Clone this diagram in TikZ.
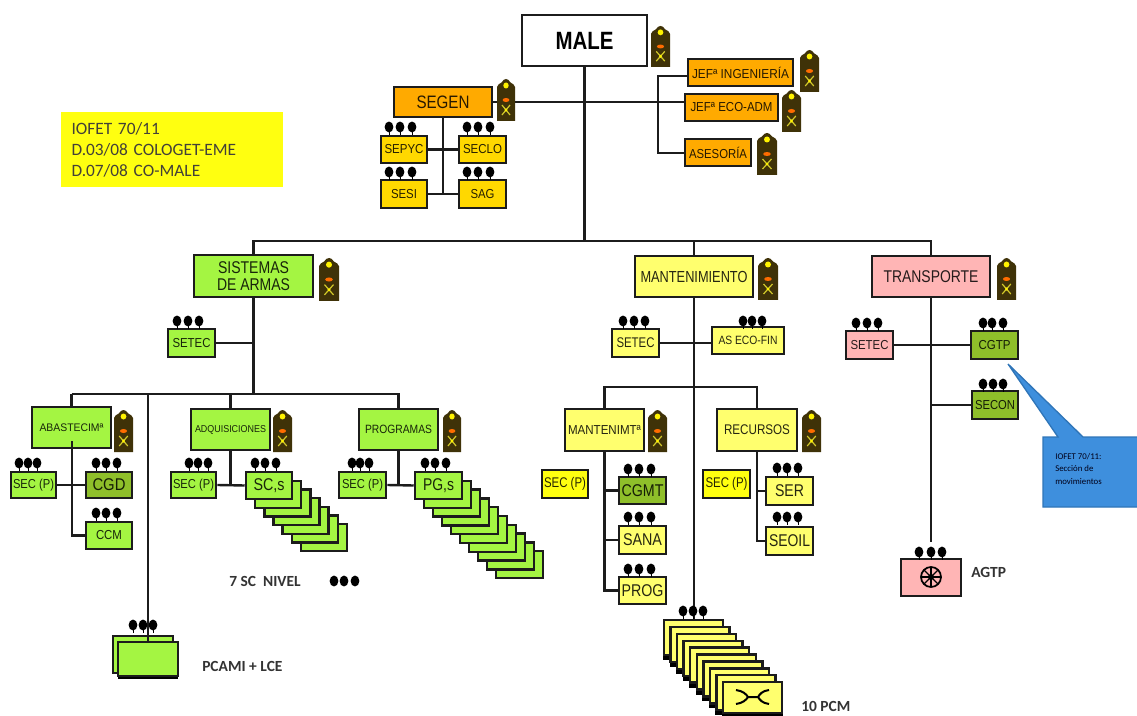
\documentclass[tikz,border=0pt]{standalone}
\usepackage{fontspec}
\usepackage{graphicx}
\setmainfont{Liberation Sans}
\newfontfamily\notefont{Carlito}
\definecolor{cgreen}{HTML}{A4F542}
\definecolor{cdgreen}{HTML}{8FBF2A}
\definecolor{cyel}{HTML}{FFFF6E}
\definecolor{csyel}{HTML}{FFFF10}
\definecolor{corange}{HTML}{FFAA00}
\definecolor{cgold}{HTML}{FFD800}
\definecolor{cpink}{HTML}{FFB5B5}
\definecolor{cblue}{HTML}{3E8FDD}
\definecolor{cbluedk}{HTML}{2F75B8}
\definecolor{cbrown}{HTML}{3F3208}
\definecolor{cline}{HTML}{1C1C1C}
\newsavebox\ftbox
\newcommand\fitt[3]{\sbox\ftbox{\fontsize{\fpeval{#2*.75}}{\fpeval{#2*.9}}\selectfont #3}\pgfmathsetmacro\ftsc{#1*.75/\the\wd\ftbox}\scalebox{\ftsc}[1]{\usebox\ftbox}}
\tikzset{
  orgbox/.style={draw=cline,line width=1.9pt,inner sep=0pt,align=center},
  conn/.style={draw=cline,line width=1.8pt},
  stackbox/.style={draw=cline,line width=1.8pt},
  lbl/.style={font=\notefont\bfseries\fontsize{11.6}{13}\selectfont,text=black!80,inner sep=0pt},
}
\newcommand\bx[7]{\pgfmathsetmacro\bxw{(#4-#2)*.75}\pgfmathsetmacro\bxh{(#5-#3)*.75}%
  \node[orgbox,fill=#6,text=black!85!#6,minimum width=\bxw pt,minimum height=\bxh pt] (#1) at ({(#2+#4)/2},{(#3+#5)/2}) {#7};}
\newcommand\epa[4]{\begin{scope}[shift={(#1,#2)},xscale={(#3-#1)/20},yscale={(#4-#2)/42}]
  \fill[cbrown] (0,42) -- (0,8) .. controls (0,5.5) and (3,5) .. (5,3.5) .. controls (7,1) and (8,0) .. (10,0) .. controls (12,0) and (13,1) .. (15,3.5) .. controls (17,5) and (20,5.5) .. (20,8) -- (20,42) -- cycle;
  \fill[yellow] (10,6.5) circle[radius=3];
  \fill[orange!85!red] (10,21) ellipse[x radius=3.8,y radius=2];
  \draw[yellow!80!black,line width=.9pt] (5.5,26) -- (14.5,36) (14.5,26) -- (5.5,36);
  \fill[yellow] (10,31) circle[radius=1.7];
\end{scope}}
\newcommand\dts[4]{\foreach \dx in {#1,#2,#3}{\fill[black] (\dx,#4) ellipse[x radius=4.4,y radius=5.4]; \draw[black,line width=.7pt] (\dx,#4) -- ++(0,8);}}
\begin{document}
\begin{tikzpicture}[x=0.75pt,y=-0.75pt]
\useasboundingbox (0,0) rectangle (1137,716);

% top level
\bx{male}{522}{15}{647}{66}{white}{\fitt{58}{25}{\bfseries\color{black} MALE}}
\bx{segen}{394}{87}{492}{117}{corange}{\fitt{53}{18}{SEGEN}}
\bx{sepyc}{381}{136}{427}{163}{cgold}{\fitt{39}{13}{SEPYC}}
\bx{seclo}{459}{136}{506}{163}{cgold}{\fitt{39}{13}{SECLO}}
\bx{sesi}{381}{180}{427}{208}{cgold}{\fitt{26}{13}{SESI}}
\bx{sag}{459}{180}{506}{208}{cgold}{\fitt{24}{13}{SAG}}
\bx{jefing}{688}{59}{793}{86}{corange}{\fitt{97}{13}{JEFª INGENIERÍA}}
\bx{jefeco}{685}{94}{778}{121}{corange}{\fitt{82}{13}{JEFª ECO-ADM}}
\bx{asesoria}{685}{139}{751}{166}{corange}{\fitt{58}{13}{ASESORÍA}}

\node[fill=csyel,inner xsep=8.25pt,inner ysep=5pt,text width=150pt,minimum height=56.25pt,align=left,font=\notefont\fontsize{13}{15.75}\selectfont,text=black!85!yellow] (note) at (171.5,149.5) {IOFET 70/11\\D.03/08 COLOGET-EME\\D.07/08 CO-MALE};

% second level
\bx{sistemas}{194}{255}{313}{297}{cgreen}{\fitt{71}{17}{SISTEMAS}\\[1pt]\fitt{73}{17}{DE ARMAS}}
\bx{mant}{635}{256}{753}{297}{cyel}{\fitt{107}{16}{MANTENIMIENTO}}
\bx{transp}{872}{256}{990}{297}{cpink}{\fitt{95}{17}{TRANSPORTE}}
\bx{setecA}{168}{329}{215}{357}{cgreen}{\fitt{38}{13}{SETEC}}
\bx{setecB}{612}{329}{659}{357}{cyel}{\fitt{38}{14}{SETEC}}
\bx{asecofin}{712}{327}{784}{354}{cyel}{\fitt{59}{12}{AS ECO-FIN}}
\bx{setecC}{846}{331}{893}{359}{cpink}{\fitt{38}{13}{SETEC}}
\bx{cgtp}{971}{331}{1018}{359}{cdgreen}{\fitt{32}{13}{CGTP}}
\bx{secon}{972}{391}{1018}{419}{cdgreen}{\fitt{40}{13}{SECON}}

% sistemas branch
\bx{abast}{32}{407}{111}{448}{cgreen}{\fitt{64}{11}{ABASTECIMª}}
\bx{adq}{191}{409}{270}{450}{cgreen}{\fitt{71}{10}{ADQUISICIONES}}
\bx{prog}{359}{409}{438}{450}{cgreen}{\fitt{67}{12}{PROGRAMAS}}
\bx{secpA}{11}{472}{56}{498}{cgreen}{\fitt{41}{13}{SEC (P)}}
\bx{cgd}{86}{472}{132}{498}{cdgreen}{\fitt{33}{17}{CGD}}
\bx{ccm}{86}{522}{132}{549}{cgreen}{\fitt{26}{13}{CCM}}
\bx{secpB}{171}{472}{216}{498}{cgreen}{\fitt{41}{13}{SEC (P)}}
\bx{secpC}{339}{472}{386}{498}{cgreen}{\fitt{41}{13}{SEC (P)}}
\foreach \i in {6,5,...,1}{\filldraw[stackbox,fill=cgreen] ({246+\i*9.17},{472+\i*8.7}) rectangle ++(46,27);}
\bx{scs}{246}{472}{292}{499}{cgreen}{\fitt{31}{17}{SC,s}}
\foreach \i in {9,8,...,1}{\filldraw[stackbox,fill=cgreen] ({415+\i*9},{472+\i*8.8}) rectangle ++(47,27);}
\bx{pgs}{415}{472}{462}{499}{cgreen}{\fitt{31}{17}{PG,s}}
\filldraw[stackbox,fill=cgreen] (113,636) rectangle (173,673);
\fill[black] (118,672) rectangle (178,679);
\bx{pcami}{118}{642}{178}{676}{cgreen}{}

% mantenimiento branch
\bx{mantmt}{565}{409}{644}{451}{cyel}{\fitt{73}{13}{MANTENIMTª}}
\bx{recursos}{717}{409}{797}{451}{cyel}{\fitt{66}{14}{RECURSOS}}
\bx{secpD}{542}{470}{588}{498}{csyel}{\fitt{42}{14}{SEC (P)}}
\bx{secpE}{703}{470}{750}{498}{csyel}{\fitt{42}{14}{SEC (P)}}
\bx{cgmt}{619}{477}{666}{504}{cdgreen}{\fitt{42}{17}{CGMT}}
\bx{sana}{619}{526}{666}{554}{cyel}{\fitt{39}{17}{SANA}}
\bx{progB}{619}{577}{666}{604}{cyel}{\fitt{42}{17}{PROG}}
\bx{ser}{766}{477}{813}{505}{cyel}{\fitt{29}{17}{SER}}
\bx{seoil}{766}{527}{813}{555}{cyel}{\fitt{41}{17}{SEOIL}}
\foreach \i in {0,1,...,8}{\fill[black] ({663+\i*6.55},{650+\i*6.9}) rectangle ++(58,10);\filldraw[stackbox,fill=cyel] ({664+\i*6.55},{620+\i*6.9}) rectangle ++(59,35);}
\fill[black] (722,708) rectangle (783,716);
\bx{pcm}{723}{682}{782}{713}{cyel}{}
\draw[black,line width=1.5pt] (736,690) .. controls (743,691) and (746,694) .. (748,697) .. controls (746,700) and (743,703) .. (736,704) (748,697) -- (758,697) (769,690) .. controls (762,691) and (760,694) .. (758,697) .. controls (760,700) and (762,703) .. (769,704);

% transporte
\bx{agtp}{901}{559}{961}{596}{cpink}{}
\draw[black,line width=1.3pt] (931,577) circle[radius=10];
\foreach \a in {0,45,...,315}{\draw[black,line width=.9pt] (931,577) -- ++(\a:10);}
\fill[black] (931,577) circle[radius=3];

% connectors
\coordinate (jl) at (253.5,241);
\coordinate (jtop) at (male.south |- jl);
\coordinate (jm) at (mant.north |- jl);
\coordinate (jr) at (transp.north |- jl);
\draw[conn] (male.south) -- (jtop);
\draw[conn] (sistemas.north) -- (jl) -- (jr) -- (transp.north);
\draw[conn] (jm) -- (mant.north);
\draw[conn] (segen.east) -- (segen.east -| jefeco.west);
\coordinate (ja) at (658,76);
\coordinate (jb) at (658,153);
\draw[conn] (ja -| jefing.west) -- (ja) -- (jb) -- (jb -| asesoria.west);
\coordinate (jc) at (443,194);
\draw[conn] (segen.south -| jc) -- (jc);
\draw[conn] (sepyc.east) -- (seclo.west);
\draw[conn] (sesi.east) -- (sag.west);
% sistemas
\coordinate (ja1) at (253.5,394);
\draw[conn] (sistemas.south) -- (ja1);
\draw[conn] (setecA.east) -- (setecA.east -| ja1);
\coordinate (jpc) at (148,394);
\draw[conn] (abast.north |- ja1) -- (abast.north);
\draw[conn] (abast.north |- ja1) -- (prog.north |- ja1) -- (prog.north);
\draw[conn] (adq.north |- ja1) -- (adq.north);
\draw[conn] (jpc) -- (pcami.north -| jpc);
\coordinate (jab) at (72,441);
\coordinate (jcc) at (72,535.5);
\draw[conn] (jab) -- (jcc) -- (ccm.west);
\draw[conn] (secpA.east) -- (cgd.west);
\draw[conn] (adq.south) -- (adq.south |- secpB.east);
\draw[conn] (secpB.east) -- (scs.west);
\draw[conn] (prog.south) -- (prog.south |- secpC.east);
\draw[conn] (secpC.east) -- (pgs.west);
% mantenimiento
\coordinate (jpcm) at (mant.south |- 0,620);
\draw[conn] (mant.south) -- (jpcm);
\draw[conn] (setecB.east) -- (setecB.east -| asecofin.west);
\coordinate (jm1) at (604.5,387);
\coordinate (jm2) at (757,387);
\draw[conn] (mantmt.north) -- (jm1) -- (jm2) -- (recursos.north);
\coordinate (jm3) at (604.5,590.5);
\draw[conn] (mantmt.south) -- (jm3) -- (progB.west);
\draw[conn] (cgmt.west -| jm3) -- (cgmt.west);
\draw[conn] (sana.west -| jm3) -- (sana.west);
\coordinate (jr3) at (757,541);
\draw[conn] (recursos.south) -- (jr3) -- (seoil.west);
\draw[conn] (ser.west -| jr3) -- (ser.west);
% transporte
\coordinate (jt) at (transp.south |- 0,542);
\draw[conn] (transp.south) -- (jt);
\draw[conn] (setecC.east) -- (cgtp.west);
\draw[conn] (secon.west -| jt) -- (secon.west);

% epaulettes
\epa{651}{26}{670}{67}
\epa{497}{79}{515}{121}
\epa{800}{50}{819}{92}
\epa{782}{90}{801}{132}
\epa{757}{133}{777}{175}
\epa{319}{258}{339}{301}
\epa{758}{258}{778}{300}
\epa{997}{258}{1016}{300}
\epa{114}{410}{133}{452}
\epa{273}{410}{292}{452}
\epa{443}{410}{461}{452}
\epa{648}{410}{667}{452}
\epa{802}{410}{821}{452}

% dots
\dts{389}{400}{412}{127}
\dts{467}{478}{490}{127}
\dts{389}{400}{412}{172}
\dts{467}{478}{490}{172}
\dts{177}{188}{199}{321}
\dts{623}{634}{645}{321}
\dts{743}{752}{762}{321}
\dts{856}{867}{878}{323}
\dts{983}{992}{1003}{323}
\dts{983}{993}{1003}{384}
\dts{919}{931}{942}{552}
\dts{19}{28}{37}{463}
\dts{96}{106}{117}{463}
\dts{96}{106}{117}{513}
\dts{189}{198}{208}{463}
\dts{255}{265}{276}{463}
\dts{352}{360}{369}{463}
\dts{425}{435}{446}{463}
\dts{133}{143}{153}{625}
\dts{628}{639}{651}{469}
\dts{628}{639}{651}{517}
\dts{628}{639}{651}{569}
\dts{777}{787}{798}{468}
\dts{777}{787}{798}{517}
\dts{683}{693}{703}{611}
\foreach \dx in {334,344,355}{\fill[black] (\dx,581) ellipse[x radius=4.4,y radius=5.4];}

% labels
\node[lbl,anchor=west] (lsc) at (229,581) {7 SC\ \ NIVEL};
\node[lbl,anchor=west] (lpc) at (202,666) {PCAMI + LCE};
\node[lbl,anchor=west] (lpm) at (801,706) {10 PCM};
\node[lbl,anchor=west] (lag) at (971,572) {AGTP};

% callout
\filldraw[fill=cblue,draw=cbluedk,line width=1pt] (1008,364) -- (1083,437) -- (1138,437) -- (1138,507) -- (1043,507) -- (1043,437) -- (1058,437) -- cycle;
\node[anchor=north west,inner sep=0pt,align=left,font=\notefont\fontsize{6.6}{9.3}\selectfont,text=black!90!blue] (cnote) at (1055,453) {IOFET 70/11:\\Sección de\\movimientos};
\end{tikzpicture}
\end{document}
